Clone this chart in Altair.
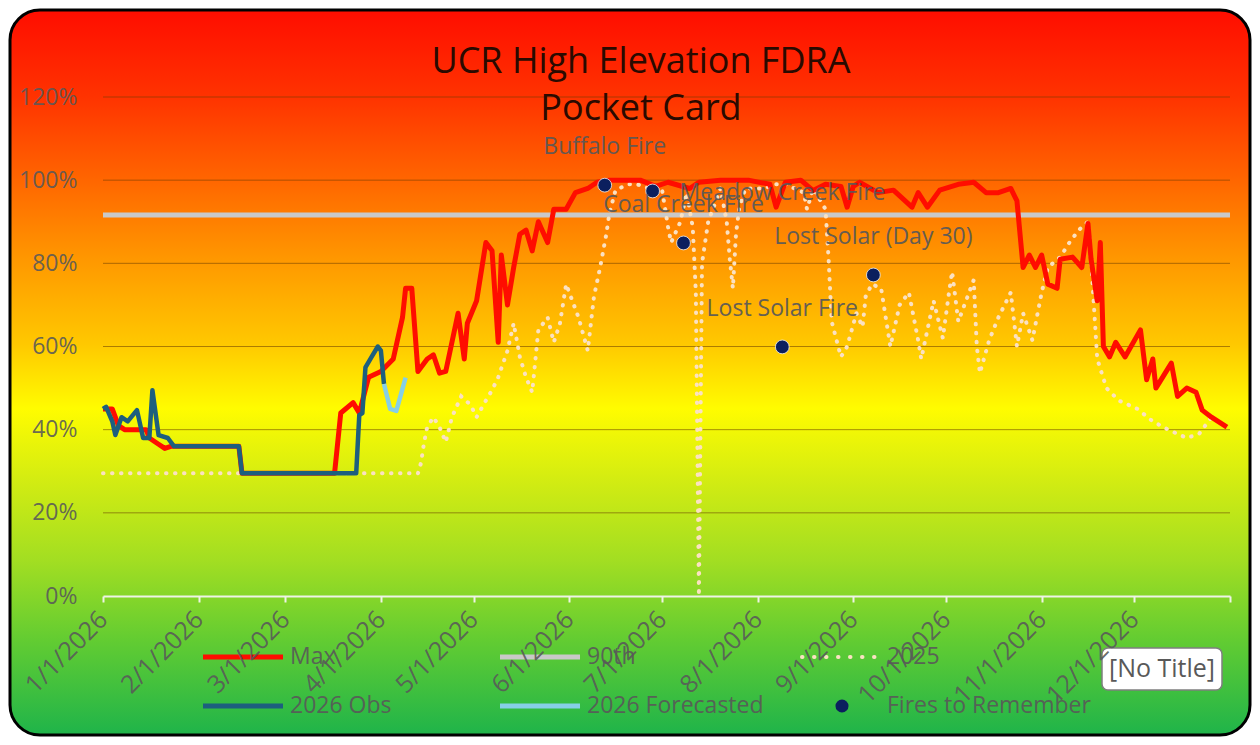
import altair as alt
import pandas as pd

# ---------------- data (day of year, 0 = 1/1/2026 ; values in %) ----------------
max_day = [0, 3, 5, 7, 14, 15, 18, 20, 22, 44, 45, 75, 77, 81, 83, 86, 90, 94, 97, 98, 100, 102,
           105, 107, 109, 111, 115, 117, 118, 121, 124, 126, 128, 129, 131, 133, 135, 137, 139,
           141, 144, 146, 150, 153, 157, 160, 164, 174, 179, 183, 190, 193, 200, 209, 216, 218,
           221, 226, 230, 234, 239, 241, 243, 245, 251, 256, 262, 264, 267, 271, 277, 282, 286,
           290, 294, 296, 298, 300, 302, 304, 306, 309, 310, 314, 317, 319, 320, 322, 323, 324,
           326, 328, 331, 336, 338, 340, 341, 346, 348, 351, 354, 356, 359, 364]
max_val = [45, 45, 41, 40, 40, 38, 36.5, 35.5, 36, 36, 29.5, 29.5, 44, 46.5, 44, 52.6, 54, 57, 67,
           74, 74, 54, 57, 58, 53.6, 54, 68, 57, 65.6, 71, 85, 83, 61, 82, 70, 79, 87, 88, 83,
           90, 85, 93, 93, 97, 98, 99.5, 100, 100, 98.5, 99.5, 98, 99.5, 100, 100, 99, 93.5,
           99.5, 100, 97.5, 99, 98.5, 93.5, 98.5, 99.5, 97, 97.6, 93.5, 97, 93.5, 97.6, 99, 99.5, 97,
           97, 98, 95, 79, 82, 79, 82, 75, 74, 81, 81.5, 79, 89.6, 81, 71, 85, 60,
           57.5, 61, 57.5, 64, 52, 57, 50, 56, 48, 50, 49, 44.7, 43, 40.6]

obs_day = [0, 1, 3, 4, 6, 8, 11, 13, 15, 16, 18, 21, 23, 44, 45, 82, 83, 84, 85, 87, 89, 90, 91]
obs_val = [45, 45.5, 42, 38.7, 43, 42, 44.7, 38, 38, 49.5, 38.7, 38, 36, 36, 29.5, 29.5, 43.5,
           44, 55, 57.5, 60, 59, 51]

fc_day = [91, 93, 95, 98]
fc_val = [51, 45, 44.5, 52.5]

y2025_day = [0, 102, 103, 104, 105, 107, 109, 111, 113, 116, 119, 121, 124, 126, 128, 131, 133,
             135, 137, 139, 141, 144, 146, 148, 150, 152, 154, 157, 159, 161, 163, 164, 166, 170,
             173, 177, 181, 183, 184, 187, 189, 191, 192, 193, 194, 196, 200, 202, 203, 204, 205,
             206, 208, 214, 218, 221, 227, 228, 230, 234, 235, 236, 239, 241, 244, 246, 247, 249,
             252, 255, 258, 261, 264, 265, 269, 272, 274, 275, 277, 281, 282, 283, 284, 287, 290,
             294, 296, 298, 301, 304, 306, 310, 313, 316, 319, 320, 321, 322, 325, 329, 335, 340,
             345, 351, 355, 359, 364]
y2025_val = [29.5, 29.5, 32, 37, 40.6, 43, 40.6, 37, 43, 48, 46, 43, 47, 49.5, 52.6, 59, 65.6,
             57.5, 52.6, 49, 64, 67, 61, 65.6, 75, 71, 67, 59, 72, 79, 87, 92, 97.6, 99,
             99, 98, 98, 88.7, 85, 90, 97, 88.7, 73, 0, 80, 90, 98, 90, 81, 74, 87,
             93, 98, 98, 99, 99, 97, 93, 98, 93, 81, 66, 57.5, 60, 68, 64.7, 72, 75,
             74, 60, 70, 73, 61.5, 57, 71, 62, 73, 78, 66, 74, 76, 60, 53.6, 61.5, 67,
             73, 60, 68, 61.5, 73, 79, 81.5, 85, 88, 90, 81, 69, 57, 50, 47, 45, 42,
             40, 38, 39, 43, 40.6]

pct90 = 91.6

fire_names = ["Buffalo Fire", "Meadow Creek Fire", "Coal Creek Fire", "Lost Solar Fire",
              "Lost Solar (Day 30)"]
fire_day = [162.5, 178, 188, 220, 249.5]
fire_val = [98.8, 97.4, 84.9, 59.9, 77.2]
fire_label_side = ["above", "right", "above", "above", "above"]

month_ticks = [0, 31, 59, 90, 120, 151, 181, 212, 243, 273, 304, 334, 365]
month_labels = ["1/1/2026", "2/1/2026", "3/1/2026", "4/1/2026", "5/1/2026", "6/1/2026",
                "7/1/2026", "8/1/2026", "9/1/2026", "10/1/2026", "11/1/2026", "12/1/2026", ""]
y_ticks = [0, 20, 40, 60, 80, 100, 120]

legend_names = ["Max", "90th", "2025", "2026 Obs", "2026 Forecasted", "Fires to Remember"]
title_lines = ["UCR High Elevation FDRA", "Pocket Card"]

# ---------------- styling ----------------
W, H = 1127, 499
FONT = "Open Sans"
TXT = "#595959"
RED = "#ff0d00"
GRAY90 = "#c9c9c9"
DOT = "#fbe1c2"
TEAL = "#1d5f7e"
LBLUE = "#86cfe6"
NAVY = "#0b1f5e"

xs = alt.Scale(domain=[0, 365], nice=False, zero=False)
ys = alt.Scale(domain=[0, 120], nice=False)

label_map = "{" + ",".join(f"'{d}':'{l}'" for d, l in zip(month_ticks, month_labels)) + "}"

x_axis = alt.Axis(values=month_ticks, labelExpr=f"{label_map}[datum.value]",
                  labelAngle=-45, labelAlign="right", labelBaseline="middle",
                  labelPadding=13, labelFontSize=25, labelFont=FONT,
                  labelColor=TXT, labelOpacity=0.9, labelOverlap=False,
                  labelBound=False, labelFlush=False,
                  domainColor="#eef3e6", domainWidth=2, tickColor="#eef3e6",
                  tickWidth=2, tickSize=6, grid=False, title=None, zindex=1)
y_axis = alt.Axis(values=y_ticks, labelExpr="datum.value + '%'", labelFontSize=23,
                  labelFont=FONT, labelColor=TXT, labelOpacity=0.9, labelPadding=26,
                  domain=False, ticks=False, grid=False, title=None, zindex=1)

X = alt.X("day:Q", scale=xs, axis=x_axis)
Y = alt.Y("val:Q", scale=ys, axis=y_axis)

grad = alt.LinearGradient(
    gradient="linear", x1=0, x2=0, y1=0, y2=1,
    stops=[
        alt.GradientStop(offset=0.0, color="#ff0d00"),
        alt.GradientStop(offset=0.12, color="#ff3300"),
        alt.GradientStop(offset=0.23, color="#ff6400"),
        alt.GradientStop(offset=0.34, color="#ff9600"),
        alt.GradientStop(offset=0.46, color="#ffc800"),
        alt.GradientStop(offset=0.55, color="#fffc00"),
        alt.GradientStop(offset=0.65, color="#d2ec12"),
        alt.GradientStop(offset=0.76, color="#a2de22"),
        alt.GradientStop(offset=0.87, color="#62cc32"),
        alt.GradientStop(offset=1.0, color="#1fb44a"),
    ],
)

one = pd.DataFrame({"a": [0]})

bg = alt.Chart(one).mark_rect(fill=grad, stroke="#000000", strokeWidth=3,
                              cornerRadius=30).encode(
    x=alt.value(-93), x2=alt.value(1147), y=alt.value(-87), y2=alt.value(638))

grid = alt.Chart(pd.DataFrame({"val": y_ticks[1:]})).mark_rule(
    color="#6a3c00", strokeOpacity=0.55, strokeWidth=1).encode(y=Y)

line90 = alt.Chart(pd.DataFrame({"val": [pct90]})).mark_rule(
    color=GRAY90, strokeWidth=5).encode(y=Y)

df2025 = pd.DataFrame({"day": y2025_day, "val": y2025_val})
l2025 = alt.Chart(df2025).mark_line(color=DOT, strokeWidth=4, strokeDash=[0.5, 8.5],
                                    strokeCap="round").encode(x=X, y=Y)

dfmax = pd.DataFrame({"day": max_day, "val": max_val})
lmax = alt.Chart(dfmax).mark_line(color=RED, strokeWidth=5, strokeJoin="round").encode(x=X, y=Y)

dfobs = pd.DataFrame({"day": obs_day, "val": obs_val})
lobs = alt.Chart(dfobs).mark_line(color=TEAL, strokeWidth=4.5, strokeJoin="round").encode(
    x=X, y=Y)

dffc = pd.DataFrame({"day": fc_day, "val": fc_val})
lfc = alt.Chart(dffc).mark_line(color=LBLUE, strokeWidth=4.5, strokeJoin="round").encode(
    x=X, y=Y)

dffire = pd.DataFrame({"name": fire_names, "day": fire_day, "val": fire_val,
                       "side": fire_label_side})
fires = alt.Chart(dffire).mark_point(filled=True, size=190, color=NAVY, opacity=1,
                                     stroke="#f0f0f0", strokeWidth=0.8).encode(x=X, y=Y)
fire_lab_above = alt.Chart(dffire).transform_filter("datum.side == 'above'").mark_text(
    font=FONT, fontSize=23, color=TXT, opacity=0.92, dy=-38, align="center",
    baseline="middle").encode(x=X, y=Y, text="name:N")
fire_lab_right = alt.Chart(dffire).transform_filter("datum.side == 'right'").mark_text(
    font=FONT, fontSize=23, color=TXT, opacity=0.92, dx=27, dy=2, align="left",
    baseline="middle").encode(x=X, y=Y, text="name:N")

# title
titles = []
for i, t in enumerate(title_lines):
    titles.append(alt.Chart(one).mark_text(font=FONT, fontSize=36, fontWeight=500,
                                           color="#2a0a00", align="center",
                                           baseline="middle").encode(
        x=alt.value(538), y=alt.value(-35 + i * 47), text=alt.value(t)))

# legend (manual)
leg = []
col_x = [100, 397, 697]
row_y = [560, 609]
styles = [
    dict(kind="line", color=RED, w=5),
    dict(kind="line", color=GRAY90, w=5),
    dict(kind="dot", color=DOT, w=4),
    dict(kind="line", color=TEAL, w=5),
    dict(kind="line", color=LBLUE, w=5),
    dict(kind="point", color=NAVY),
]
for i, (name, st) in enumerate(zip(legend_names, styles)):
    cx = col_x[i % 3]
    cy = row_y[i // 3]
    if st["kind"] == "line":
        leg.append(alt.Chart(one).mark_rule(color=st["color"], strokeWidth=st["w"]).encode(
            x=alt.value(cx), x2=alt.value(cx + 80), y=alt.value(cy)))
    elif st["kind"] == "dot":
        leg.append(alt.Chart(one).mark_rule(color=st["color"], strokeWidth=st["w"],
                                            strokeDash=[0.5, 11.5], strokeCap="round").encode(
            x=alt.value(cx + 2), x2=alt.value(cx + 78), y=alt.value(cy)))
    else:
        leg.append(alt.Chart(one).mark_point(filled=True, size=170, color=st["color"],
                                             opacity=1).encode(
            x=alt.value(cx + 42), y=alt.value(cy)))
    leg.append(alt.Chart(one).mark_text(font=FONT, fontSize=23, color=TXT, opacity=0.9,
                                        align="left", baseline="middle").encode(
        x=alt.value(cx + 87), y=alt.value(cy), text=alt.value(name)))

notitle_box = alt.Chart(one).mark_rect(fill="#ffffff", stroke="#7f7f7f", strokeWidth=1.5,
                                       cornerRadius=6).encode(
    x=alt.value(999), x2=alt.value(1119), y=alt.value(551), y2=alt.value(593))
notitle_txt = alt.Chart(one).mark_text(font=FONT, fontSize=25, color=TXT, align="center",
                                       baseline="middle").encode(
    x=alt.value(1059), y=alt.value(572), text=alt.value("[No Title]"))

chart = alt.layer(
    bg, grid, line90, l2025, lmax, lobs, lfc, fires, fire_lab_above, fire_lab_right,
    *titles, *leg, notitle_box, notitle_txt
).properties(
    width=W, height=H,
    autosize=alt.AutoSizeParams(type="none"),
    padding={"left": 95, "top": 89, "right": 22, "bottom": 141},
).configure_view(stroke=None).configure(background="#ffffff")

chart.save("out.html", embed_options={"renderer": "svg", "actions": False})
